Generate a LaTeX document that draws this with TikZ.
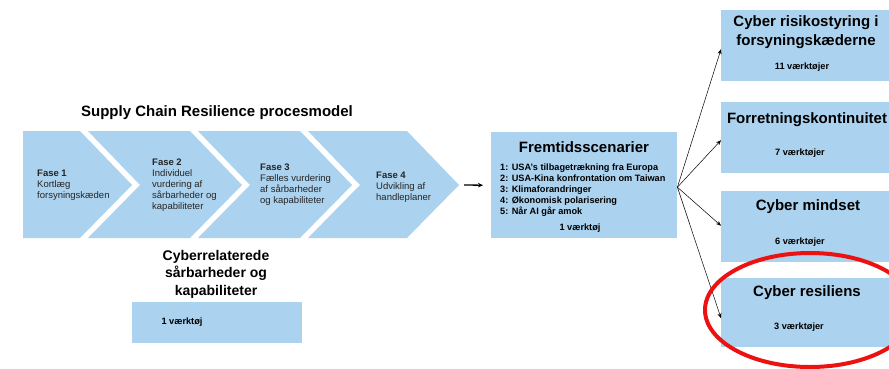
\documentclass[tikz,border=0pt]{standalone}
\usepackage{fontspec}
\setmainfont{Liberation Sans}
\usetikzlibrary{arrows.meta}
\definecolor{paleblue}{RGB}{171,210,238}
\definecolor{ringred}{RGB}{236,18,18}

\begin{document}
\begin{tikzpicture}[x=1pt,y=-1pt,
  chev/.style={fill=paleblue},
  panel/.style={fill=paleblue, draw=none, inner sep=0pt, anchor=north west},
  heading/.style={font=\fontsize{15}{17}\selectfont\bfseries, inner sep=0pt},
  subhead/.style={font=\fontsize{14}{17.5}\selectfont\bfseries, align=center, inner sep=0pt},
  small/.style={font=\fontsize{9.2}{11}\selectfont\bfseries, inner sep=0pt},
  phase/.style={font=\fontsize{9.5}{11}\selectfont, align=left, anchor=west, inner sep=0pt, text=black!85},
  link/.style={-{Stealth[length=5pt,width=4pt]}, line width=0.5pt},
  lead/.style={-{Stealth[length=5pt,width=4.5pt]}, line width=1.3pt},
]
\useasboundingbox (0,0) rectangle (889,368);

% process model title
\node[heading] (pmtitle) at (217,113) {Supply Chain Resilience procesmodel};

% four phase chevrons
\fill[chev] (23,131) -- (80,131) -- (132,185) -- (80,238) -- (23,238) -- cycle;
\fill[chev] (88,131) -- (190,131) -- (242,185) -- (190,238) -- (88,238) -- (140,185) -- cycle;
\fill[chev] (198,131) -- (300,131) -- (352,185) -- (300,238) -- (198,238) -- (250,185) -- cycle;
\fill[chev] (308,131) -- (407,131) -- (459,185) -- (407,238) -- (308,238) -- (360,185) -- cycle;
\coordinate (c4tip) at (459,185);

\node[phase] (f1) at (37,185) {\textbf{Fase 1}\\Kortlæg\\forsyningskæden};
\node[phase] (f2) at (152,185.5) {\textbf{Fase 2}\\Individuel\\vurdering af\\sårbarheder og\\kapabiliteter};
\node[phase] (f3) at (260,184.5) {\textbf{Fase 3}\\Fælles vurdering\\af sårbarheder\\og kapabiliteter};
\node[phase] (f4) at (376,187) {\textbf{Fase 4}\\Udvikling af\\handleplaner};

% cyber-related vulnerabilities
\node[subhead] (cytitle) at (216,274) {Cyberrelaterede\\sårbarheder og\\kapabiliteter};
\node[panel, minimum width=170pt, minimum height=41pt] (cybox) at (132,302) {};
\node[small] (cytool) at (182,322) {1 værktøj};

% future scenarios
\node[panel, minimum width=186pt, minimum height=106pt] (fs) at (491,132) {};
\node[heading] (fstitle) at (584,147) {Fremtidsscenarier};
\node[small, align=left, anchor=west] (fslist) at (500,190.5) {1: USA's tilbagetrækning fra Europa\\2: USA-Kina konfrontation om Taiwan\\3: Klimaforandringer\\4: Økonomisk polarisering\\5: Når AI går amok};
\node[small] (fstool) at (580,228) {1 værktøj};

\draw[lead] ([xshift=5pt]c4tip) -- ([xshift=-8pt]fs.west);

% tool areas
\node[panel, minimum width=172pt, minimum height=71pt] (b1) at (721,10) {};
\node[panel, minimum width=172pt, minimum height=71pt] (b2) at (721,102) {};
\node[panel, minimum width=172pt, minimum height=71pt] (b3) at (721,191) {};
\node[panel, minimum width=172pt, minimum height=69pt] (b4) at (721,278) {};

\node[heading, align=center, font=\fontsize{15}{19}\selectfont\bfseries] (b1t) at (806,32.5) {Cyber risikostyring i\\forsyningskæderne};
\node[small] (b1n) at (802,67) {11 værktøjer};
\node[heading] (b2t) at (807,120) {Forretningskontinuitet};
\node[small] (b2n) at (800,153) {7 værktøjer};
\node[heading] (b3t) at (808,207) {Cyber mindset};
\node[small] (b3n) at (800,242) {6 værktøjer};
\node[heading] (b4t) at (807,293) {Cyber resiliens};
\node[small] (b4n) at (799,327) {3 værktøjer};

% fan of links
\coordinate (fan) at ([yshift=-2pt]fs.east);
\draw[link] (fan) -- ([yshift=-3.5pt]b1.west);
\draw[link] (fan) -- ([yshift=-2.5pt]b2.west);
\draw[link] (fan) -- ([yshift=1pt]b3.west);
\draw[link] (fan) -- ([yshift=-5.5pt]b4.west);

% highlight ring
\draw[ringred, line width=4pt] (810,310) ellipse [x radius=105pt, y radius=57pt];
\end{tikzpicture}
\end{document}
